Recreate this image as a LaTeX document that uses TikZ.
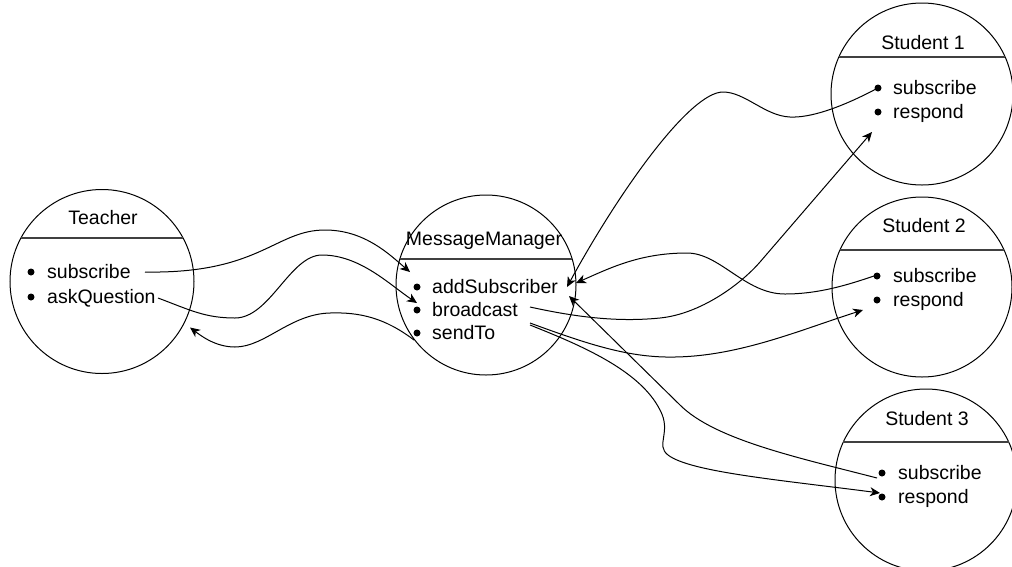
\documentclass[tikz,border=0pt]{standalone}
\usepackage{fontspec}
\setmainfont{Liberation Sans}
\usetikzlibrary{arrows.meta}
\begin{document}
\begin{tikzpicture}[x=1pt,y=-1pt,
  big/.style={draw, circle, line width=1pt, inner sep=0pt},
  hline/.style={line width=1.3pt, black!75},
  title/.style={anchor=base, inner sep=0pt, font=\fontsize{19.5}{23}\selectfont},
  item/.style={anchor=base west, inner sep=0pt, font=\fontsize{19.5}{23}\selectfont},
  dot/.style={circle, fill, inner sep=0pt, minimum size=7pt},
  arr/.style={line width=1pt, -{Stealth[length=10pt,width=9pt,inset=3pt]}},
]
\useasboundingbox (0,0) rectangle (1012,566);

% circles
\node[big, minimum size=184pt] (teacher) at (102,281.5) {};
\node[big, minimum size=180pt] (mm) at (486,285) {};
\node[big, minimum size=182pt] (s1) at (922,94) {};
\node[big, minimum size=180pt] (s2) at (922,287) {};
\node[big, minimum size=182pt] (s3) at (926,480) {};

% header lines
\draw[hline] (20.9,238) -- (183.1,238);
\draw[hline] (399.8,259) -- (572.2,259);
\draw[hline] (839,57) -- (1005,57);
\draw[hline] (840,250) -- (1004,250);
\draw[hline] (843,442) -- (1009,442);

% titles
\node[title] (tT) at (103,224) {Teacher};
\node[title] (mT) at (484,245) {MessageManager};
\node[title] (aT) at (923,49) {Student 1};
\node[title] (bT) at (924,232) {Student 2};
\node[title] (cT) at (927,425) {Student 3};

% bullets
\node[dot] (tb1) at (31,272) {};
\node[dot] (tb2) at (31,297) {};
\node[dot] (mb1) at (417,287) {};
\node[dot] (mb2) at (417,310) {};
\node[dot] (mb3) at (417,333) {};
\node[dot] (ab1) at (878,88) {};
\node[dot] (ab2) at (878,112) {};
\node[dot] (bb1) at (877,276) {};
\node[dot] (bb2) at (877,300) {};
\node[dot] (cb1) at (882,473) {};
\node[dot] (cb2) at (882,497) {};

% items
\node[item] (t1) at (47,278) {subscribe};
\node[item] (t2) at (47,303) {askQuestion};
\node[item] (m1) at (432,293) {addSubscriber};
\node[item] (m2) at (432,316) {broadcast};
\node[item] (m3) at (432,339) {sendTo};
\node[item] (a1) at (893,94) {subscribe};
\node[item] (a2) at (893,118) {respond};
\node[item] (b1) at (893,282) {subscribe};
\node[item] (b2) at (893,306) {respond};
\node[item] (c1) at (898,479) {subscribe};
\node[item] (c2) at (898,503) {respond};

% connectors
\draw[arr] ([shift={(114,0)}]tb1.center) .. controls (260,274) and (275,230) .. (325,230)
  .. controls (365,230) and (390,255) .. ([shift={(-7,-15)}]mb1.center);
\draw[arr] ([shift={(127,1)}]tb2.center) .. controls (190,310) and (205,318) .. (235,318)
  .. controls (270,318) and (290,255) .. (322,255)
  .. controls (360,255) and (390,285) .. ([shift={(0,-7)}]mb2.center);
\draw[arr] ([shift={(-3,7)}]mb3.center) .. controls (385,318) and (360,312) .. (330,313)
  .. controls (290,314) and (265,347) .. (235,347)
  .. controls (215,347) and (200,335) .. ([shift={(88,46)}]teacher.center);
\draw[arr] ([shift={(-2,1)}]ab1.center) .. controls (840,108) and (810,118) .. (790,117)
  .. controls (765,116) and (745,92) .. (723,92)
  .. controls (690,92) and (620,190) .. ([shift={(150,0)}]mb1.center);
\draw[arr] ([shift={(113,-3)}]mb2.center) .. controls (580,318) and (620,322) .. (660,318)
  .. controls (700,314) and (740,285) .. (760,262) -- ([shift={(-6,20)}]ab2.center);
\draw[arr] ([shift={(-3,0)}]bb1.center) .. controls (850,284) and (820,294) .. (785,294)
  .. controls (745,294) and (720,253) .. (687,253)
  .. controls (640,253) and (610,268) .. ([shift={(159,-4)}]mb1.center);
\draw[arr] ([shift={(113,-10)}]mb3.center) .. controls (590,345) and (630,358) .. (675,357)
  .. controls (740,356) and (800,330) .. ([shift={(-14,10)}]bb2.center);
\draw[arr] ([shift={(113,-8)}]mb3.center) .. controls (580,345) and (640,370) .. (660,410)
  .. controls (672,432) and (655,445) .. (668,455)
  .. controls (690,472) and (780,480) .. ([shift={(-2,-4)}]cb2.center);
\draw[arr] ([shift={(-5,5)}]cb1.center) .. controls (800,458) and (715,440) .. (680,405)
  -- ([shift={(152,9)}]mb1.center);
\end{tikzpicture}
\end{document}
